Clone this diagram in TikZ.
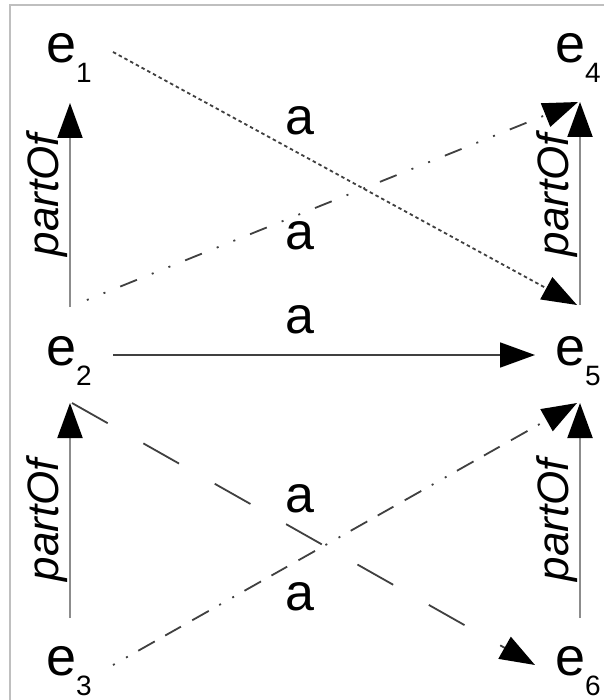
\documentclass[tikz,border=0pt]{standalone}
\usepackage{fontspec}
\setmainfont{Liberation Sans}
\usetikzlibrary{arrows.meta}
\newcommand{\entlbl}[1]{{\fontsize{54}{54}\selectfont e}\raisebox{-20pt}{\fontsize{28}{28}\selectfont #1}}
\begin{document}
\begin{tikzpicture}[x=1pt,y=-1pt,
  ent/.style={inner sep=0pt, anchor=base west},
  lbl/.style={inner sep=0pt, anchor=base, font=\fontsize{52}{52}\selectfont},
  partlbl/.style={inner sep=0pt, anchor=base, rotate=90, font=\fontsize{44}{44}\selectfont\itshape},
  tipend/.style={-{Triangle[length=35pt,width=25pt,color=black]}},
  partarrow/.style={tipend, draw=black!45, line width=2pt},
  rel/.style={tipend, draw=black!75, line width=1.8pt},
  finedots/.style={dash pattern=on 3.5pt off 3pt},
  dashdotdot/.style={dash pattern=on 18pt off 16pt on 2pt off 16pt on 2pt off 16pt},
  longdash/.style={dash pattern=on 41pt off 41pt},
  dotdotdashes/.style={dash pattern=on 2pt off 13pt on 2pt off 12pt on 19pt off 12pt on 18pt off 13pt on 19pt off 12pt}
]
\useasboundingbox (0,0) rectangle (604,700);
\fill[white] (0,0) rectangle (604,700);
\draw[black!25, line width=2pt] (10,700) -- (10,5) -- (604,5);

% entities
\node[ent] (e1) at (46,63) {\entlbl{1}};
\node[ent] (e4) at (555,63) {\entlbl{4}};
\node[ent] (e2) at (46,365) {\entlbl{2}};
\node[ent] (e5) at (555,365) {\entlbl{5}};
\node[ent] (e3) at (46,675) {\entlbl{3}};
\node[ent] (e6) at (555,675) {\entlbl{6}};

% connector end points
\coordinate (l1top) at (70,103);
\coordinate (l1bot) at (70,307);
\coordinate (l2top) at (70,403);
\coordinate (l2bot) at (70,618);
\coordinate (r1top) at (580,102);
\coordinate (r1bot) at (580,305);
\coordinate (r2top) at (580,403);
\coordinate (r2bot) at (580,618);
\coordinate (e1out) at (113,52);
\coordinate (e5inA) at (577,305);
\coordinate (e2outA) at (72,306);
\coordinate (e4in) at (578,102);
\coordinate (e2outH) at (113,355);
\coordinate (e5inH) at (535,355);
\coordinate (e2outB) at (72,403);
\coordinate (e6in) at (535,665);
\coordinate (e3out) at (113,665);
\coordinate (e5inB) at (577,403);

% partOf arrows
\draw[partarrow] (l1bot) -- (l1top);
\draw[partarrow] (l2bot) -- (l2top);
\draw[partarrow] (r1bot) -- (r1top);
\draw[partarrow] (r2bot) -- (r2top);
\node[partlbl] (p1) at (58,195) {partOf};
\node[partlbl] (p2) at (58,520) {partOf};
\node[partlbl] (p3) at (568,195) {partOf};
\node[partlbl] (p4) at (568,520) {partOf};

% relation arrows
\draw[rel, finedots] (e1out) -- (e5inA);
\draw[rel, dashdotdot, dash phase=18pt] (e2outA) -- (e4in);
\draw[rel] (e2outH) -- (e5inH);
\draw[rel, longdash] (e2outB) -- (e6in);
\draw[rel, dotdotdashes] (e3out) -- (e5inB);

% labels
\node[lbl] (a1) at (300,135) {a};
\node[lbl] (a2) at (300,250) {a};
\node[lbl] (a3) at (300,333) {a};
\node[lbl] (a4) at (300,512) {a};
\node[lbl] (a5) at (300,610) {a};
\end{tikzpicture}
\end{document}
